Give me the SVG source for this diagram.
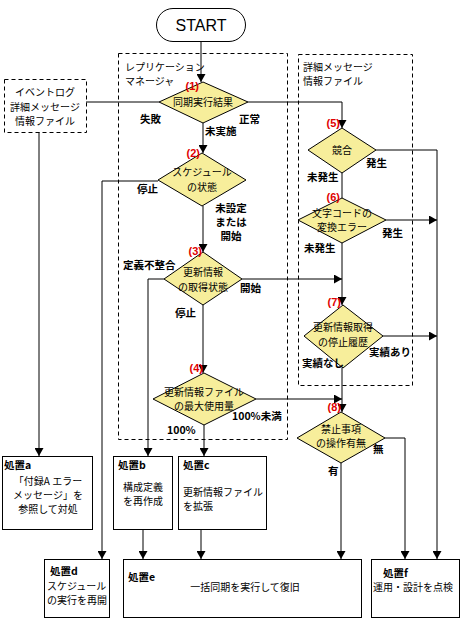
<svg xmlns="http://www.w3.org/2000/svg" width="466" height="623" viewBox="0 0 466 623">
<defs>
<marker id="ah" markerUnits="userSpaceOnUse" markerWidth="9" markerHeight="9" refX="8" refY="4.5" orient="auto">
<path d="M0,0 L8,4.5 L0,9 z" fill="#000"/>
</marker>
<style>
.t{font-family:"Noto Sans CJK JP","Liberation Sans",sans-serif;font-size:10px;fill:#000}
.b{font-family:"Noto Sans CJK JP","Liberation Sans",sans-serif;font-size:10.5px;font-weight:bold;fill:#000}
.n{font-family:"Liberation Sans","Noto Sans CJK JP",sans-serif;font-size:11px;font-weight:bold;fill:#e00000}
.d{fill:#f7ee9b;stroke:#000;stroke-width:1}
.box{fill:#fff;stroke:#000;stroke-width:1}
.dash{fill:none;stroke:#000;stroke-width:1;stroke-dasharray:4,3}
.c{fill:none;stroke:#000;stroke-width:1}
.a{fill:none;stroke:#000;stroke-width:1;marker-end:url(#ah)}
</style>
</defs>
<rect width="466" height="623" fill="#fff"/>

<g id="groups">
<rect class="dash" x="118.5" y="53.5" width="169" height="386"/>
<text class="t" x="125" y="71">レプリケーション</text>
<text class="t" x="125" y="85">マネージャ</text>
<rect class="dash" x="298.5" y="54.5" width="114" height="331"/>
<text class="t" x="303" y="71">詳細メッセージ</text>
<text class="t" x="303" y="85">情報ファイル</text>
</g>

<g id="connectors">
<path class="a" d="M201,41 V82"/>
<path class="c" d="M86,102 H159"/>
<path class="a" d="M248,102 H342 V128"/>
<path class="a" d="M203,123 V153"/>
<path class="a" d="M158,181 H102 V559"/>
<path class="a" d="M203,206 V252"/>
<path class="a" d="M164,279 H148 V456"/>
<path class="a" d="M242,279 H342"/>
<path class="a" d="M203,305 V373"/>
<path class="a" d="M256,399 H342"/>
<path class="a" d="M204,425 V456"/>
<path class="a" d="M376,150 H437 V559"/>
<path class="c" d="M342,173 V198"/>
<path class="a" d="M386,220 H437"/>
<path class="a" d="M342,243 V305"/>
<path class="a" d="M383,336 H437"/>
<path class="a" d="M342,368 V412"/>
<path class="a" d="M385,438 H405 V559"/>
<path class="a" d="M341,463 V559"/>
<path class="a" d="M39,132 V456"/>
<path class="a" d="M143,530 V559"/>
<path class="a" d="M201,530 V559"/>
</g>

<g id="start">
<rect x="156.5" y="8.5" width="89" height="33" rx="16.5" ry="16.5" fill="#fff" stroke="#000"/>
<text x="201" y="31" text-anchor="middle" font-family="Liberation Sans, sans-serif" font-size="16">START</text>
</g>

<g id="eventlog">
<rect class="dash" x="4.5" y="79.5" width="82" height="53" fill="#fff"/>
<text class="t" x="45" y="96" text-anchor="middle">イベントログ</text>
<text class="t" x="45" y="111" text-anchor="middle">詳細メッセージ</text>
<text class="t" x="45" y="125" text-anchor="middle">情報ファイル</text>
</g>

<g id="d1">
<polygon class="d" points="203,82 248,102 203,123 159,102"/>
<text class="t" x="203" y="106" text-anchor="middle">同期実行結果</text>
<text class="n" x="199" y="90" text-anchor="end">(1)</text>
<text class="b" x="140" y="123">失敗</text>
<text class="b" x="239" y="123">正常</text>
<text class="b" x="205" y="135">未実施</text>
</g>

<g id="d2">
<polygon class="d" points="202,153 246,180 202,206 158,180"/>
<text class="t" x="202" y="176" text-anchor="middle">スケジュール</text>
<text class="t" x="202" y="191" text-anchor="middle">の状態</text>
<text class="n" x="200" y="157" text-anchor="end">(2)</text>
<text class="b" x="137" y="193">停止</text>
<text class="b" x="231" y="212" text-anchor="middle">未設定</text>
<text class="b" x="231" y="226" text-anchor="middle">または</text>
<text class="b" x="231" y="240" text-anchor="middle">開始</text>
</g>

<g id="d3">
<polygon class="d" points="203,252 242,279 203,305 164,279"/>
<text class="t" x="203" y="276" text-anchor="middle">更新情報</text>
<text class="t" x="203" y="291" text-anchor="middle">の取得状態</text>
<text class="n" x="202" y="255" text-anchor="end">(3)</text>
<text class="b" x="123" y="269">定義不整合</text>
<text class="b" x="240" y="292">開始</text>
<text class="b" x="175" y="317">停止</text>
</g>

<g id="d4">
<polygon class="d" points="204,373 256,399 204,425 153,399"/>
<text class="t" x="204" y="396" text-anchor="middle">更新情報ファイル</text>
<text class="t" x="204" y="410" text-anchor="middle">の最大使用量</text>
<text class="n" x="203" y="372" text-anchor="end">(4)</text>
<text class="b" x="232" y="420">100%未満</text>
<text class="b" x="167" y="434">100%</text>
</g>

<g id="d5">
<polygon class="d" points="342,128 376,150 342,173 308,150"/>
<text class="t" x="342" y="154" text-anchor="middle">競合</text>
<text class="n" x="340" y="127" text-anchor="end">(5)</text>
<text class="b" x="366" y="167">発生</text>
<text class="b" x="307" y="181">未発生</text>
</g>

<g id="d6">
<polygon class="d" points="342,198 386,220 342,243 298,220"/>
<text class="t" x="342" y="217" text-anchor="middle">文字コードの</text>
<text class="t" x="342" y="231" text-anchor="middle">変換エラー</text>
<text class="n" x="340" y="201" text-anchor="end">(6)</text>
<text class="b" x="382" y="237">発生</text>
<text class="b" x="304" y="252">未発生</text>
</g>

<g id="d7">
<polygon class="d" points="343,305 383,336 343,368 304,336"/>
<text class="t" x="343" y="331" text-anchor="middle">更新情報取得</text>
<text class="t" x="343" y="346" text-anchor="middle">の停止履歴</text>
<text class="n" x="341" y="306" text-anchor="end">(7)</text>
<text class="b" x="369" y="356">実績あり</text>
<text class="b" x="302" y="367">実績なし</text>
</g>

<g id="d8">
<polygon class="d" points="341,412 385,438 341,463 297,438"/>
<text class="t" x="341" y="433" text-anchor="middle">禁止事項</text>
<text class="t" x="341" y="447" text-anchor="middle">の操作有無</text>
<text class="n" x="341" y="411" text-anchor="end">(8)</text>
<text class="b" x="373" y="453">無</text>
<text class="b" x="328" y="475">有</text>
</g>

<g id="boxa">
<rect class="box" x="2.5" y="456.5" width="90" height="73"/>
<text class="b" x="4" y="469">処置a</text>
<text class="t" x="48" y="485" text-anchor="middle">「付録A エラー</text>
<text class="t" x="48" y="499" text-anchor="middle">メッセージ」を</text>
<text class="t" x="48" y="513" text-anchor="middle">参照して対処</text>
</g>

<g id="boxb">
<rect class="box" x="113.5" y="456.5" width="59" height="73"/>
<text class="b" x="118" y="469">処置b</text>
<text class="t" x="143" y="491" text-anchor="middle">構成定義</text>
<text class="t" x="143" y="505" text-anchor="middle">を再作成</text>
</g>

<g id="boxc">
<rect class="box" x="178.5" y="456.5" width="88" height="73"/>
<text class="b" x="183" y="469">処置c</text>
<text class="t" x="183" y="496">更新情報ファイル</text>
<text class="t" x="183" y="510">を拡張</text>
</g>

<g id="boxd">
<rect class="box" x="44.5" y="559.5" width="65" height="58"/>
<text class="b" x="50" y="575">処置d</text>
<text class="t" x="47" y="590">スケジュール</text>
<text class="t" x="47" y="604">の実行を再開</text>
</g>

<g id="boxe">
<rect class="box" x="123.5" y="559.5" width="238" height="58"/>
<text class="b" x="128" y="581">処置e</text>
<text class="t" x="245" y="591" text-anchor="middle">一括同期を実行して復旧</text>
</g>

<g id="boxf">
<rect class="box" x="371.5" y="559.5" width="88" height="58"/>
<text class="b" x="383" y="577">処置f</text>
<text class="t" x="373" y="591">運用・設計を点検</text>
</g>
</svg>
